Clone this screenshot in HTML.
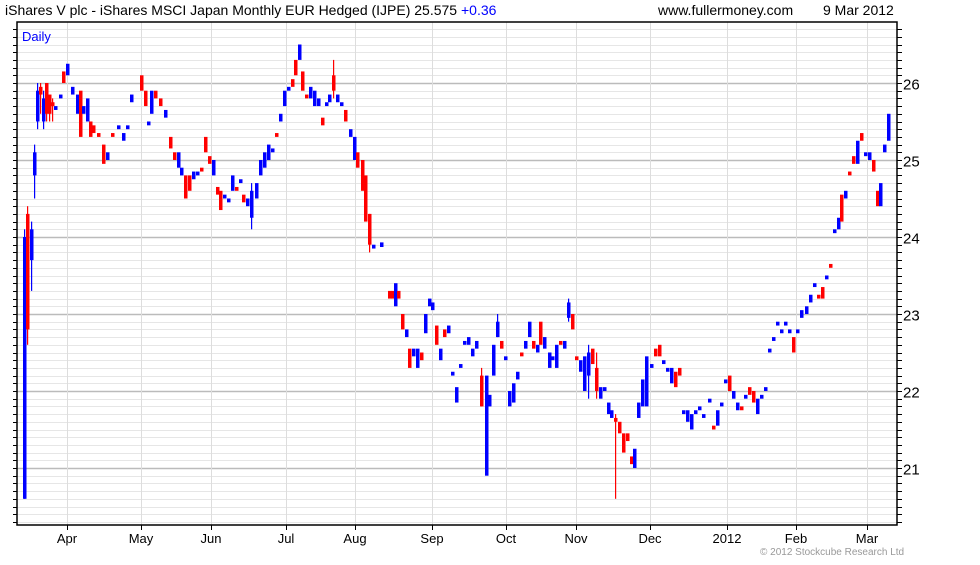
<!DOCTYPE html>
<html><head><meta charset="utf-8"><style>
body{margin:0;background:#fff;width:980px;height:560px;overflow:hidden;font-family:"Liberation Sans",sans-serif}
</style></head><body>
<svg id="s" width="980" height="560" xmlns="http://www.w3.org/2000/svg" font-family="Liberation Sans, sans-serif">
<rect width="980" height="560" fill="#fff"/>
<g id="grid"></g>
<g id="c"></g>
<rect x="17" y="22" width="880" height="503" fill="none" stroke="#000" stroke-width="1.5"/>
<g id="ax"></g>
<text x="5" y="15" font-size="14">iShares V plc - iShares MSCI Japan Monthly EUR Hedged (IJPE) 25.575 <tspan fill="#0000ff">+0.36</tspan></text>
<text x="658" y="15" font-size="14">www.fullermoney.com</text>
<text x="823" y="15" font-size="14">9 Mar 2012</text>
<text x="22" y="41" font-size="13" fill="#0000ff">Daily</text>
<text x="760" y="555" font-size="10" fill="#999">© 2012 Stockcube Research Ltd</text>
</svg>
<script>
var NS="http://www.w3.org/2000/svg";
function el(p,t,a){var e=document.createElementNS(NS,t);for(var k in a)e.setAttribute(k,a[k]);p.appendChild(e);return e;}
function Y(p){return 468-(p-21)*77;}
var g=document.getElementById('grid'),ax=document.getElementById('ax'),c=document.getElementById('c');
for(var i=0;i<=70;i++){var p=20.2+i*0.1;var y=Math.round(Y(p))+0.5;if(y<23||y>524)continue;
 var maj=Math.abs(p-Math.round(p))<0.01;
 el(g,'line',{x1:17,x2:897,y1:y,y2:y,stroke:maj?'#bbb':'#e6e6e6','stroke-width':maj?1.5:1});
 el(ax,'line',{x1:897,x2:902,y1:y,y2:y,stroke:'#000'});
 el(ax,'line',{x1:13,x2:17,y1:y,y2:y,stroke:'#000'});
 if(maj)el(ax,'text',{x:903,y:y+6,'font-size':15}).textContent=Math.round(p);}
var ms=[[67,'Apr'],[141,'May'],[211,'Jun'],[286,'Jul'],[355,'Aug'],[432,'Sep'],[506,'Oct'],[576,'Nov'],[650,'Dec'],[727,'2012'],[796,'Feb'],[867,'Mar']];
ms.forEach(function(m){el(g,'line',{x1:m[0]+.5,x2:m[0]+.5,y1:22,y2:525,stroke:'#ddd'});
 el(ax,'line',{x1:m[0]+.5,x2:m[0]+.5,y1:525,y2:530,stroke:'#000'});
 var t=el(ax,'text',{x:m[0],y:543,'font-size':13,'text-anchor':'middle'});t.textContent=m[1];});
var d=[[24,20.6,24.0,'b',20.6,24.1],[27,22.8,24.3,'r',22.6,24.4],[31,23.7,24.1,'b',23.3,24.2],[34,24.8,25.1,'b',24.5,25.2],[37,25.5,25.9,'b',25.4,26.0],
[40,25.85,25.95,'r',25.6,26.0],[43,25.5,25.8,'b',25.4,25.9],[46,25.6,26.0,'r',25.5,26.0],[49,25.6,25.85,'r',25.5,25.8],[52,25.7,25.75,'r',25.5,25.8],[55,25.65,25.7,'b'],
[60,25.8,25.85,'b'],[63,26.0,26.15,'r'],[67,26.1,26.25,'b'],[72,25.85,25.95,'b'],[77,25.6,25.85,'b'],[80,25.3,25.9,'r'],[83,25.6,25.7,'b'],[87,25.5,25.8,'b'],
[90,25.3,25.5,'r'],[93,25.35,25.45,'r'],[98,25.3,25.35,'r'],[103,24.95,25.2,'r'],[107,25.0,25.1,'b'],[112,25.3,25.35,'r'],[118,25.4,25.45,'b'],[123,25.25,25.35,'b'],
[127,25.4,25.45,'b'],[131,25.75,25.85,'b'],[141,25.9,26.1,'r'],[145,25.7,25.9,'r'],[148,25.45,25.5,'b'],[151,25.6,25.9,'b'],[155,25.8,25.9,'r'],[160,25.7,25.8,'r'],
[165,25.55,25.65,'b'],[170,25.15,25.3,'r'],[174,25.0,25.1,'r'],[178,24.9,25.1,'b'],[181,24.8,24.9,'b'],[185,24.5,24.8,'r'],[189,24.6,24.8,'r'],[193,24.75,24.85,'b'],
[197,24.8,24.85,'b'],[201,24.85,24.9,'r'],[205,25.1,25.3,'r'],[209,24.95,25.05,'r'],[213,24.8,25.0,'b'],[217,24.55,24.65,'r'],[220,24.35,24.6,'r'],[224,24.5,24.55,'b'],
[228,24.45,24.5,'b'],[232,24.6,24.8,'b'],[236,24.6,24.65,'r'],[240,24.7,24.75,'b'],[243,24.45,24.55,'r'],[247,24.4,24.5,'b'],[251,24.25,24.6,'b',24.1,24.7],[256,24.5,24.7,'b'],
[260,24.8,25.0,'b'],[264,24.9,25.1,'b'],[268,25.0,25.2,'b'],[272,25.1,25.15,'b'],[276,25.3,25.35,'r'],[280,25.5,25.6,'b'],[284,25.7,25.9,'b'],[288,25.9,25.95,'b'],
[292,25.95,26.05,'r'],[295,26.1,26.3,'r'],[299,26.3,26.5,'b'],[302,25.9,26.15,'r'],[306,25.8,25.85,'r'],[310,25.8,25.95,'b'],[314,25.7,25.9,'b'],[318,25.7,25.8,'b'],
[322,25.45,25.55,'r'],[326,25.7,25.75,'b'],[329,25.75,25.85,'b'],[333,25.9,26.1,'r',25.8,26.3],[337,25.75,25.85,'b'],[341,25.7,25.75,'b'],[345,25.5,25.65,'r'],[350,25.3,25.4,'b'],
[354,25.0,25.3,'b'],[357,24.9,25.1,'r'],[362,24.6,25.0,'r'],[365,24.2,24.8,'r'],[369,23.9,24.3,'r',23.8,24.3],[381,23.87,23.93,'b'],[373,23.85,23.9,'b'],[389,23.2,23.3,'r'],[392,23.2,23.3,'r'],
[395,23.1,23.4,'b'],[398,23.2,23.3,'r'],[402,22.8,23.0,'r'],[406,22.7,22.8,'b'],[409,22.3,22.55,'r'],[413,22.45,22.55,'b'],[417,22.3,22.55,'b'],[421,22.4,22.5,'r'],
[425,22.75,23.0,'b'],[429,23.1,23.2,'b'],[432,23.05,23.15,'b'],[436,22.6,22.85,'r'],[440,22.4,22.55,'b'],[444,22.7,22.8,'r'],[448,22.75,22.85,'b'],[452,22.2,22.25,'b'],
[456,21.85,22.05,'b'],[460,22.3,22.35,'b'],[464,22.6,22.65,'b'],[468,22.6,22.7,'b'],[472,22.45,22.55,'b'],[476,22.55,22.65,'b'],[481,21.8,22.2,'r',21.8,22.3],
[486,20.9,22.2,'b'],[489,21.8,21.95,'b'],[493,22.2,22.6,'b'],[497,22.7,22.9,'b',22.7,23.0],[501,22.55,22.65,'r'],[505,22.4,22.45,'b'],[509,21.8,22.0,'b'],[513,21.85,22.1,'b'],
[517,22.15,22.25,'b'],[521,22.45,22.5,'r'],[525,22.55,22.65,'b'],[529,22.7,22.9,'b'],[533,22.55,22.65,'r'],[537,22.5,22.6,'b'],[540,22.6,22.9,'r'],[544,22.55,22.7,'b'],
[549,22.3,22.5,'b'],[552,22.4,22.45,'b'],[556,22.3,22.6,'b'],[560,22.6,22.65,'r'],[564,22.55,22.65,'b'],[568,22.95,23.15,'b',22.9,23.2],[572,22.8,23.0,'r'],
[576,22.4,22.45,'r'],[580,22.25,22.4,'b'],[584,22.0,22.45,'b'],[588,22.2,22.5,'b',21.9,22.6],[592,22.35,22.55,'r'],[596,22.0,22.3,'r',21.9,22.5],[600,21.9,22.05,'b'],
[604,22.0,22.05,'b'],[608,21.7,21.85,'b'],[611,21.65,21.75,'b'],[615,21.6,21.65,'r',20.6,21.7],[619,21.45,21.6,'r'],[623,21.2,21.45,'r'],[627,21.35,21.45,'r'],
[631,21.05,21.15,'r'],[634,21.0,21.25,'b'],[638,21.65,21.85,'b'],[642,21.8,22.15,'b'],[646,21.8,22.45,'b'],[651,22.3,22.35,'b'],[655,22.45,22.55,'r'],[659,22.45,22.6,'r'],
[663,22.35,22.4,'b'],[667,22.25,22.3,'b'],[671,22.1,22.3,'b'],[675,22.05,22.25,'r'],[679,22.2,22.3,'r'],[683,21.7,21.75,'b'],[687,21.6,21.75,'b'],[691,21.5,21.7,'b'],
[695,21.7,21.75,'b'],[699,21.75,21.8,'b'],[703,21.65,21.7,'b'],[709,21.85,21.9,'b'],[713,21.5,21.55,'r'],[717,21.55,21.75,'b'],[721,21.8,21.85,'b'],[725,22.1,22.15,'b'],
[729,22.0,22.2,'r'],[733,21.9,22.0,'b'],[737,21.75,21.85,'b'],[741,21.75,21.8,'r'],[745,21.9,21.95,'b'],[749,21.95,22.05,'r'],[753,21.85,22.0,'r'],[757,21.7,21.9,'b'],
[761,21.9,21.95,'b'],[765,22.0,22.05,'b'],[769,22.5,22.55,'b'],[773,22.65,22.7,'b'],[777,22.85,22.9,'b'],[781,22.75,22.8,'b'],[785,22.85,22.9,'b'],[789,22.75,22.8,'b'],
[793,22.5,22.7,'r'],[797,22.75,22.8,'b'],[801,22.95,23.05,'b'],[806,23.0,23.1,'b'],[810,23.15,23.25,'b'],[814,23.35,23.4,'b'],[818,23.2,23.25,'r'],[822,23.2,23.35,'r'],
[826,23.45,23.5,'b'],[830,23.6,23.65,'r'],[834,24.05,24.1,'b'],[838,24.1,24.25,'b'],[841,24.2,24.55,'r'],[845,24.5,24.6,'b'],[849,24.8,24.85,'r'],[853,24.95,25.05,'r'],
[857,24.95,25.25,'b'],[861,25.25,25.35,'r'],[865,25.05,25.1,'b'],[869,25.0,25.1,'b'],[873,24.85,25.0,'r'],[877,24.4,24.6,'r'],[880,24.4,24.7,'b'],[884,25.1,25.2,'b'],[888,25.25,25.6,'b']];
d.forEach(function(k){var col=k[3]=='b'?'#0000ff':'#ff0000';var t=Y(k[2]),b=Y(k[1]);if(b-t<3){var m=(t+b)/2;t=m-1.5;b=m+1.5;}
 if(k[4]!==undefined)el(c,'rect',{x:k[0],y:Y(k[5]),width:1.2,height:Y(k[4])-Y(k[5]),fill:col});
 el(c,'rect',{x:k[0]-1,y:t,width:3.5,height:b-t,fill:col});});
</script>
</body></html>
